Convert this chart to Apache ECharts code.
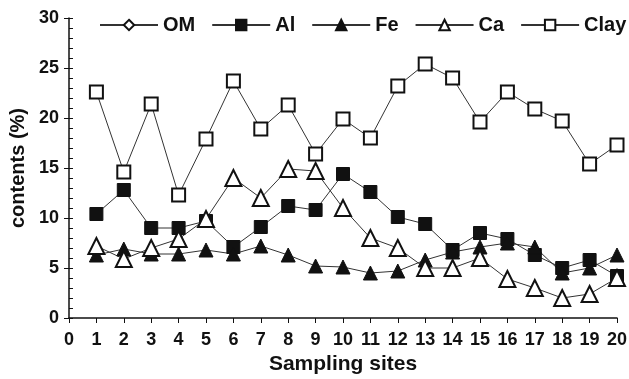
<!DOCTYPE html>
<html>
<head>
<meta charset="utf-8">
<script src="https://cdn.jsdelivr.net/npm/echarts@6/dist/echarts.min.js"></script>
<style>
  html, body { margin: 0; padding: 0; background: #fff; }
  #chart { width: 629px; height: 379px; }
</style>
</head>
<body>
<div id="chart"></div>
<script>
// sampling sites 1..20
const sites = [1, 2, 3, 4, 5, 6, 7, 8, 9, 10, 11, 12, 13, 14, 15, 16, 17, 18, 19, 20]
const om = []
const al = [10.4, 12.8, 9.0, 9.0, 9.7, 7.1, 9.1, 11.2, 10.8, 14.4, 12.6, 10.1, 9.4, 6.8, 8.5, 7.9, 6.3, 5.0, 5.8, 4.2]
const fe = [6.3, 6.9, 6.4, 6.4, 6.8, 6.4, 7.2, 6.3, 5.2, 5.1, 4.5, 4.7, 5.8, 6.6, 7.1, 7.5, 7.1, 4.5, 5.0, 6.3]
const ca = [7.2, 5.9, 7.0, 7.9, 9.9, 14.0, 12.0, 14.9, 14.7, 11.0, 8.0, 7.0, 5.0, 5.0, 6.0, 3.9, 3.0, 2.0, 2.4, 4.0]
const clay = [22.6, 14.6, 21.4, 12.3, 17.9, 23.7, 18.9, 21.3, 16.4, 19.9, 18.0, 23.2, 25.4, 24.0, 19.6, 22.6, 20.9, 19.7, 15.4, 17.3]

const font = 'Liberation Sans, Arial, sans-serif'
const ink = '#111'

function pairs(vals) {
  return vals.map((v, i) => [sites[i], v])
}

function mkSeries(name, vals, symbol, size, filled) {
  return {
    name,
    type: 'line',
    data: pairs(vals),
    symbol,
    symbolSize: size,
    showAllSymbol: true,
    lineStyle: { color: '#333', width: 1 },
    itemStyle: filled
      ? { color: ink, borderColor: ink, borderWidth: 1 }
      : { color: '#fff', borderColor: ink, borderWidth: 2 },
    emphasis: { disabled: true }
  }
}

const chart = echarts.init(document.getElementById('chart'))
chart.setOption({
  animation: false,
  textStyle: { fontFamily: font },
  grid: { left: 69, right: 12, top: 18, bottom: 61, outerBoundsMode: 'none' },
  legend: {
    top: 15,
    left: 99,
    width: 540,
    itemGap: 16,
    itemWidth: 58,
    itemHeight: 13,
    padding: 0,
    textStyle: { fontFamily: font, fontSize: 20, fontWeight: 'bold', color: ink },
    data: ['OM', 'Al', 'Fe', 'Ca', 'Clay']
  },
  xAxis: {
    type: 'value',
    min: 0,
    max: 20,
    interval: 1,
    name: 'Sampling sites',
    nameLocation: 'middle',
    nameGap: 35,
    nameTextStyle: { fontFamily: font, fontSize: 21, fontWeight: 'bold', color: ink },
    axisLine: { lineStyle: { color: ink, width: 1.5 } },
    axisTick: { lineStyle: { color: ink }, length: 5 },
    axisLabel: { fontFamily: font, fontSize: 18, fontWeight: 'bold', color: ink, margin: 13 },
    splitLine: { show: false }
  },
  yAxis: [
    {
      type: 'value',
      min: 0,
      max: 30,
      interval: 5,
      name: 'contents (%)',
      nameLocation: 'middle',
      nameGap: 40,
      nameTextStyle: { fontFamily: font, fontSize: 20, fontWeight: 'bold', color: ink },
      axisLine: { show: true, lineStyle: { color: ink, width: 1.5 } },
      axisTick: { show: true, lineStyle: { color: ink }, length: 5 },
      axisLabel: { fontFamily: font, fontSize: 18, fontWeight: 'bold', color: ink, margin: 10 },
      splitLine: { show: false }
    },
    {
      // inner ticks: short marks at every unit
      type: 'value',
      position: 'left',
      min: 0,
      max: 30,
      interval: 5,
      axisLine: { show: false },
      axisTick: { show: true, inside: true, length: 4, lineStyle: { color: ink } },
      minorTick: { show: true, splitNumber: 5, length: 4, lineStyle: { color: ink } },
      axisLabel: { show: false },
      splitLine: { show: false }
    }
  ],
  series: [
    mkSeries('OM', om, 'diamond', 14, false),
    mkSeries('Al', al, 'rect', 13, true),
    mkSeries('Fe', fe, 'triangle', 14, true),
    mkSeries('Ca', ca, 'triangle', 16, false),
    mkSeries('Clay', clay, 'rect', 13, false)
  ]
})
</script>
</body>
</html>
